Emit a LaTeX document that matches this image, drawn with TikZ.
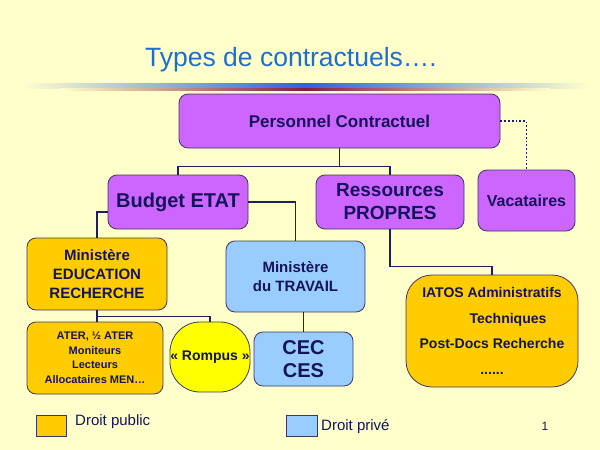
\documentclass[tikz,border=0pt]{standalone}
\usepackage{fontspec}
\setmainfont{Liberation Sans}
\usetikzlibrary{positioning,calc}
\definecolor{bgyellow}{RGB}{255,255,204}
\definecolor{titleblue}{RGB}{30,110,210}
\definecolor{barblue}{RGB}{40,100,220}
\definecolor{barred}{RGB}{130,30,60}
\definecolor{navytext}{RGB}{20,20,90}
\definecolor{boxline}{RGB}{60,55,100}
\definecolor{linkblue}{RGB}{30,30,100}
\definecolor{mauve}{RGB}{204,102,255}
\definecolor{gold}{RGB}{255,204,0}
\definecolor{skyblue}{RGB}{153,204,255}
\definecolor{lemon}{RGB}{255,255,0}
\newcommand\sz[2]{\fontsize{#1}{#2}\selectfont}
\tikzset{
  box/.style={draw=boxline, line width=0.8pt, rounded corners=9pt, text=navytext,
    align=center, inner sep=0pt},
  link/.style={draw=linkblue, line width=1.8pt},
  legendtext/.style={anchor=west, text=navytext, inner sep=0pt, font=\sz{15}{18}},
}

\begin{document}
\begin{tikzpicture}[x=1pt,y=-1pt]
  \fill[bgyellow] (0,0) rectangle (600,450);
  \useasboundingbox (0,0) rectangle (600,450);
  \node [text=titleblue, font=\sz{26.5}{30}] (title) at (291,60) {Types de contractuels….};
  \shade[left color=bgyellow, right color=barblue] (23,83) rectangle (305,88);
  \shade[left color=barblue, right color=bgyellow] (305,83) rectangle (589,88);
  \shade[left color=bgyellow, right color=barred] (60,88) rectangle (305,90);
  \shade[left color=barred, right color=bgyellow] (305,88) rectangle (550,90);

  \node [box, fill=mauve, minimum width=321pt, minimum height=54pt, font=\bfseries\sz{17}{20}] (pc) at (339.5,121) {Personnel Contractuel};
  \node [box, fill=mauve, minimum width=140pt, minimum height=54pt, font=\bfseries\sz{20}{24}] (budget) at (178,202) {Budget ETAT};
  \node [box, fill=mauve, minimum width=148pt, minimum height=54pt, font=\bfseries\sz{19}{23}] (ress) at (390,202) {Ressources\\PROPRES};
  \node [box, fill=mauve, minimum width=97pt, minimum height=61pt, font=\bfseries\sz{16}{19}] (vac) at (526.5,200.5) {Vacataires};
  \node [box, fill=gold, minimum width=140pt, minimum height=72pt, font=\bfseries\sz{15}{19}] (educ) at (97,274) {Ministère\\EDUCATION\\RECHERCHE};
  \node [box, fill=skyblue, minimum width=139pt, minimum height=71pt, font=\bfseries\sz{15}{19}] (trav) at (295.5,276.5) {Ministère\\du TRAVAIL};
  \node [box, fill=gold, minimum width=172pt, minimum height=112pt, rounded corners=26pt, font=\bfseries\sz{14}{25.5}] (iatos) at (492,331)
    {IATOS Administratifs\\\hspace*{32pt}Techniques\\Post-Docs Recherche\\......};
  \node [box, fill=gold, minimum width=136pt, minimum height=72pt, font=\bfseries\sz{11}{14.5}] (ater) at (95,358)
    {ATER, ½ ATER\\Moniteurs\\Lecteurs\\Allocataires MEN…};
  \node [box, fill=lemon, minimum width=80pt, minimum height=70pt, rounded corners=30pt, font=\bfseries\sz{14}{17}] (romp) at (210,357) {« Rompus »};
  \node [box, fill=skyblue, minimum width=99pt, minimum height=54pt, font=\bfseries\sz{20}{23}] (cec) at (303.5,359) {CEC\\CES};

  \draw [link] (pc.south) -- ++(0,18) coordinate (j1) -| (budget.north);
  \draw [link] (j1) -| (ress.north);
  \draw [link, dotted, line width=1.5pt] (pc.east) -| (vac.north);
  \draw [link] (budget.east) -| (trav.north);
  \draw [link] ([yshift=-10pt]budget.west) -| (educ.north);
  \draw [link] (ress.south) -- ++(0,37) -| (iatos.north);
  \draw [link] (educ.south) -- ++(0,6) coordinate (j2) -| (romp.north);
  \draw [link] (j2) -- (j2 |- ater.north);
  \draw [link] (cec.north) -- (cec.north |- trav.south);

  \node [box, fill=gold, rounded corners=0pt, minimum width=30pt, minimum height=21pt] (pubkey) at (51,425.5) {};
  \node [legendtext] (pub) at (75,422) {Droit public};
  \node [box, fill=skyblue, rounded corners=0pt, minimum width=31pt, minimum height=21pt] (privkey) at (301.5,425.5) {};
  \node [legendtext] (priv) at (321,427) {Droit privé};
  \node [text=navytext, font=\sz{12}{14}] (page) at (545,426) {1};
\end{tikzpicture}
\end{document}
